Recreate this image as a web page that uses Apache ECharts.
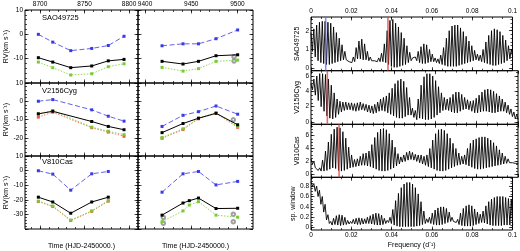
<!DOCTYPE html>
<html>
<head>
<meta charset="utf-8">
<script src="https://cdn.jsdelivr.net/npm/echarts@6/dist/echarts.min.js"></script>
<style>
  html, body { margin: 0; padding: 0; background: #fff; }
  #main { width: 520px; height: 251px; }
</style>
</head>
<body>
<div id="main"></div>
<script>
// ---- RV curves (left block) ----
var leftT  = [8698.1, 8714.3, 8734.5, 8758.1, 8776.7, 8794.4];
var rightT = [9418.4, 9441.1, 9447.9, 9457.8, 9476.8, 9500.2];

var saoBlueL  = [0, -3.2, -6.7, -5.8, -4.6, -0.8];
var saoBlackL = [-9.6, -11.4, -13.7, -13.0, -10.9, -10.3];
var saoGreenL = [-11.4, -13.7, -16.7, -16.2, -13.3, -12.1];
var saoBlueR  = [-4.7, -3.9, null, -3.9, -1.8, 1.8];
var saoBlackR = [-11.1, -12.2, null, -11.1, -8.8, -8.4];
var saoGreenR = [-13.6, -15.1, null, -14.1, -11.1, -10.6];
var saoOpen   = [[9496.3, -9.2], [9496.3, -11.0]];

var cygBlueL  = [0, 0.9, null, -4.7, -8.2, -10.9];
var cygBlackL = [-6.9, -5.5, null, -11.1, -13.8, -15.6];
var cygGreenL = [-6.9, -5.1, null, -14.2, -16.4, -18.3];
var cygRedL   = [-8.7, -6.0, null, -14.5, -16.9, -19.2];
var cygBlueR  = [-13.8, -7.7, null, -5.7, -2.6, -7.1];
var cygBlackR = [-17.2, -12.2, null, -9.3, -6.6, -12.9];
var cygGreenR = [-19.9, -15.1, null, -9.3, -6.4, -13.8];
var cygRedR   = [-20.3, -15.5, null, -9.6, -6.6, -14.3];
var cygOpen   = [[9495.5, -10.2]];

var casBlueL  = [-0.1, -2.4, -13.4, -2.2, -0.6, null];
var casBlackL = [-18.2, -21.5, -29.2, -21.5, -18.2, null];
var casGreenL = [-20.9, -24.3, -33.9, -27.6, -20.6, null];
var casRedL   = [-21.2, -24.6, -34.2, -27.9, -20.9, null];
var casBlueR  = [-14.8, -2.2, null, -0.6, -9.8, -7.4];
var casBlackR = [-30.5, -22.2, -20.6, -18.8, -26.0, -25.8];
var casGreenR = [-35.0, -27.6, -23.6, -21.3, -30.5, -31.9];
var casOpen   = [[9419.8, -32.1], [9419.8, -36.1], [9495.5, -29.9], [9495.5, -35.0]];

// ---- periodograms (right block): peak / trough heights of each fringe ----
var FSTEP = 0.0014;
var saoPeak = [1.9, 2.1, 2.3, 2.45, 2.5, 2.5, 2.45, 2.4, 2.2, 1.9,
  1.6, 1.25, 0.9, 0.55, 0.4, 0.6, 1.1, 1.45, 1.55, 1.3,
  0.9, 0.6, 0.5, 0.5, 0.55, 0.8, 1.3, 2.0, 2.55, 2.6,
  2.4, 2.2, 1.9, 1.6, 1.2, 0.85, 0.55, 0.6, 0.9, 1.15,
  1.3, 1.25, 1.0, 0.75, 0.55, 0.5, 0.7, 1.1, 1.6, 2.0,
  2.25, 2.3, 2.3, 2.15, 1.95, 1.7, 1.45, 1.2, 0.95, 0.75,
  0.7, 1.0, 1.4, 1.75, 2.0, 2.1, 2.05, 1.95, 1.75, 1.5,
  1.2, 1.0];
var saoTrough = [0.9, 0.6, 0.4, 0.3, 0.25, 0.2, 0.2, 0.25, 0.3, 0.35,
  0.4, 0.45, 0.45, 0.35, 0.3, 0.35, 0.5, 0.5, 0.45, 0.45,
  0.4, 0.4, 0.4, 0.35, 0.35, 0.35, 0.3, 0.2, 0.1, 0.05,
  0.05, 0.1, 0.15, 0.2, 0.3, 0.4, 0.45, 0.4, 0.3, 0.25,
  0.25, 0.3, 0.35, 0.35, 0.3, 0.25, 0.2, 0.15, 0.1, 0.1,
  0.1, 0.1, 0.15, 0.2, 0.25, 0.3, 0.35, 0.4, 0.45, 0.4,
  0.35, 0.3, 0.25, 0.2, 0.15, 0.15, 0.2, 0.25, 0.3, 0.4,
  0.5, 0.6];
var cygPeak = [5.0, 5.6, 6.0, 6.3, 6.3, 6.2, 5.6, 4.8, 3.8, 3.0,
  2.7, 2.6, 2.6, 2.5, 2.5, 2.4, 2.5, 2.6, 2.4, 2.3,
  2.2, 2.1, 2.3, 2.6, 3.0, 3.2, 3.4, 3.8, 4.4, 5.0,
  5.4, 5.6, 5.3, 4.5, 3.2, 1.8, 1.5, 3.0, 4.8, 5.9,
  6.3, 6.3, 6.0, 5.4, 4.6, 3.8, 3.2, 3.0, 3.2, 3.6,
  3.9, 3.9, 3.6, 3.2, 2.9, 2.7, 2.8, 3.1, 3.5, 3.9,
  4.2, 4.3, 4.2, 4.0, 3.7, 3.4, 3.0, 2.6, 2.2, 1.7,
  1.3, 1.0];
var cygTrough = [4.2, 3.5, 2.8, 2.0, 1.4, 0.8, 0.5, 0.4, 0.6, 1.0,
  1.3, 1.5, 1.6, 1.6, 1.5, 1.4, 1.5, 1.6, 1.5, 1.3,
  1.2, 1.1, 1.2, 1.4, 1.5, 1.4, 1.2, 1.0, 0.8, 0.6,
  0.5, 0.5, 0.7, 0.9, 0.9, 0.6, 0.3, 0.5, 0.4, 0.3,
  0.3, 0.4, 0.6, 0.9, 1.2, 1.5, 1.6, 1.5, 1.3, 1.2,
  1.2, 1.4, 1.6, 1.7, 1.6, 1.4, 1.2, 1.2, 1.3, 1.4,
  1.4, 1.3, 1.2, 1.2, 1.3, 1.4, 1.4, 1.2, 1.0, 0.7,
  0.4, 0.3];
var casPeak = [2.4, 2.0, 1.2, 1.0, 2.2, 3.6, 5.0, 6.2, 7.0, 7.3,
  7.2, 6.6, 5.6, 4.2, 3.0, 2.3, 2.4, 2.8, 3.2, 3.3,
  3.6, 4.6, 5.7, 6.5, 7.0, 7.1, 6.9, 6.3, 5.3, 4.2,
  3.2, 2.7, 3.0, 3.4, 3.6, 3.4, 3.1, 3.0, 3.0, 2.8,
  3.0, 4.0, 5.3, 6.3, 6.9, 7.0, 6.8, 6.3, 5.6, 4.8,
  4.0, 3.3, 2.8, 3.0, 4.0, 4.8, 5.3, 5.5, 5.7, 5.8,
  5.8, 5.6, 5.3, 4.9, 4.4, 3.8, 3.3, 2.8, 2.4, 2.1,
  2.0, 2.0];
var casTrough = [1.6, 1.0, 0.6, 0.5, 0.5, 0.6, 0.8, 1.0, 0.9, 0.6,
  0.5, 0.6, 0.8, 1.0, 1.1, 1.2, 1.3, 1.4, 1.4, 1.3,
  1.2, 1.0, 0.8, 0.6, 0.5, 0.5, 0.6, 0.8, 1.0, 1.3,
  1.6, 1.9, 2.0, 2.2, 2.3, 2.2, 2.0, 1.8, 1.6, 1.4,
  1.2, 1.0, 0.8, 0.6, 0.5, 0.5, 0.6, 0.8, 1.0, 1.2,
  1.4, 1.5, 1.6, 1.5, 1.3, 1.1, 0.9, 0.8, 0.8, 0.9,
  1.0, 1.1, 1.2, 1.3, 1.4, 1.5, 1.6, 1.7, 1.8, 1.8,
  1.7, 1.7];
var winPeak = [0.88, 0.85, 0.8, 0.72, 0.6, 0.45, 0.25, 0.12, 0.18, 0.23,
  0.25, 0.24, 0.2, 0.14, 0.12, 0.16, 0.18, 0.19, 0.18, 0.17,
  0.2, 0.23, 0.26, 0.28, 0.27, 0.24, 0.18, 0.14, 0.2, 0.35,
  0.52, 0.66, 0.77, 0.84, 0.87, 0.87, 0.84, 0.77, 0.65, 0.5,
  0.32, 0.17, 0.2, 0.28, 0.34, 0.38, 0.4, 0.4, 0.37, 0.3,
  0.2, 0.12, 0.16, 0.28, 0.37, 0.42, 0.44, 0.42, 0.36, 0.3,
  0.26, 0.32, 0.42, 0.5, 0.55, 0.58, 0.6, 0.6, 0.6, 0.58,
  0.56, 0.55];
var winTrough = [0.8, 0.7, 0.6, 0.45, 0.3, 0.15, 0.08, 0.05, 0.06, 0.05,
  0.04, 0.05, 0.06, 0.07, 0.08, 0.07, 0.06, 0.06, 0.07, 0.08,
  0.08, 0.07, 0.06, 0.05, 0.05, 0.06, 0.08, 0.1, 0.08, 0.05,
  0.03, 0.02, 0.02, 0.02, 0.02, 0.02, 0.02, 0.03, 0.04, 0.06,
  0.08, 0.1, 0.08, 0.06, 0.05, 0.05, 0.06, 0.08, 0.1, 0.12,
  0.12, 0.1, 0.06, 0.04, 0.03, 0.03, 0.03, 0.04, 0.06, 0.08,
  0.1, 0.09, 0.07, 0.05, 0.04, 0.04, 0.04, 0.04, 0.05, 0.05,
  0.05, 0.05];

var saoRedF = [0.0382], saoBlueF = [0.0073];
var cygRedF = [0.0079];
var casRedF = [0.01355];

var freqLabels = [0, 0.02, 0.04, 0.06, 0.08, 0.1];

var FONT = 'Liberation Sans, Arial, sans-serif';
var BLUE = '#3a3ae6', GREEN = '#77cc33', RED = '#f05a3c', GREY = '#888888';

var grids = [], xAxes = [], yAxes = [], series = [];

function ticks(min, max, step) {
  var a = [];
  for (var k = Math.ceil(min / step - 1e-9); k * step <= max + 1e-9; k++) {
    a.push(+(k * step).toFixed(6));
  }
  return a;
}
function plain(v) { return String(+v.toFixed(4)); }

function axis(g, pos, r, vals, len, labels, name, nameGap, rot) {
  return {
    type: 'value', gridIndex: g, position: pos, min: r[0], max: r[1],
    axisLine: { show: false, onZero: false }, splitLine: { show: false },
    axisTick: { show: true, inside: true, length: len, customValues: vals,
                lineStyle: { color: '#000', width: 0.7 } },
    axisLabel: { show: !!labels, customValues: labels || [], fontSize: 6.5, color: '#000',
                 margin: 2, fontFamily: FONT, formatter: plain, hideOverlap: false },
    name: name || '', nameLocation: 'middle', nameGap: nameGap || 0, nameRotate: rot,
    nameTextStyle: { fontSize: 7, color: '#000', fontFamily: FONT }
  };
}

function panel(c) {
  var g = grids.length;
  grids.push({ left: c.box[0], top: c.box[1], width: c.box[2], height: c.box[3],
               show: true, borderColor: '#000', borderWidth: 1 });
  var xi = xAxes.length, yi = yAxes.length;
  var xM = ticks(c.xr[0], c.xr[1], c.xMaj), xm = ticks(c.xr[0], c.xr[1], c.xMin);
  var yM = ticks(c.yr[0], c.yr[1], c.yMaj), ym = ticks(c.yr[0], c.yr[1], c.yMin);
  xAxes.push(axis(g, 'bottom', c.xr, xM, 3.5, c.bottomLabels, c.xName, c.xNameGap));
  xAxes.push(axis(g, 'bottom', c.xr, xm, 2));
  xAxes.push(axis(g, 'top', c.xr, xM, 3.5, c.topLabels));
  xAxes.push(axis(g, 'top', c.xr, xm, 2));
  yAxes.push(axis(g, 'left', c.yr, yM, 3.5, c.leftLabels, c.yName, c.yNameGap, 90));
  yAxes.push(axis(g, 'left', c.yr, ym, 2));
  yAxes.push(axis(g, 'right', c.yr, yM, 3.5));
  yAxes.push(axis(g, 'right', c.yr, ym, 2));
  return { x: xi, y: yi };
}

function rvLine(ax, times, vals, color, dash, width) {
  var d = [];
  for (var i = 0; i < times.length; i++) d.push([times[i], vals[i]]);
  series.push({ type: 'line', xAxisIndex: ax.x, yAxisIndex: ax.y, data: d, connectNulls: true,
    symbol: 'rect', symbolSize: 3, showSymbol: true, itemStyle: { color: color },
    lineStyle: { color: color, width: width || 0.8, type: dash }, silent: true });
}
function openPts(ax, pts) {
  series.push({ type: 'scatter', xAxisIndex: ax.x, yAxisIndex: ax.y, data: pts,
    symbol: 'emptyCircle', symbolSize: 3.5, itemStyle: { color: GREY, borderColor: GREY, borderWidth: 0.8 },
    silent: true });
}
function rvPanel(ax, times, blue, black, green, red, open) {
  if (red) rvLine(ax, times, red, RED, [1.5, 1.5]);
  rvLine(ax, times, green, GREEN, [1.5, 1.5]);
  rvLine(ax, times, black, '#000', 'solid', 1);
  rvLine(ax, times, blue, BLUE, [5, 2.5]);
  if (open) openPts(ax, open);
}

function pgram(ax, peak, trough, yr, redF, blueF) {
  var d = [];
  for (var i = 0; i < peak.length; i++) {
    d.push([i * FSTEP, peak[i]]);
    d.push([(i + 0.5) * FSTEP, trough[i]]);
  }
  series.push({ type: 'line', xAxisIndex: ax.x, yAxisIndex: ax.y, data: d, showSymbol: false,
    lineStyle: { color: '#000', width: 0.9 }, silent: true, clip: true });
  function vline(f, col) {
    series.push({ type: 'line', xAxisIndex: ax.x, yAxisIndex: ax.y, showSymbol: false,
      data: [[f, yr[0]], [f, yr[1]]], lineStyle: { color: col, width: 1.6, opacity: 0.75 }, silent: true });
  }
  (redF || []).forEach(function (f) { vline(f, '#e03c3c'); });
  (blueF || []).forEach(function (f) { vline(f, '#6a6ae8'); });
}

// ---- layout ----
var LX = [8683.1, 8810.1], RX = [9392.4, 9516.8];
var rowBox = [[10, 73], [83, 73], [156, 74]];
var rvY = [[-20, 10], [-30, 10], [-40, 10]];
var rvLab = [[10, 0, -10], [10, 0, -10, -20], [10, 0, -10, -20, -30]];
var axL = [], axR = [];
for (var r = 0; r < 3; r++) {
  var last = r === 2;
  axL.push(panel({ box: [25, rowBox[r][0], 113, rowBox[r][1]], xr: LX, yr: rvY[r],
    xMaj: 50, xMin: 10, yMaj: 10, yMin: 2,
    topLabels: r === 0 ? [8700, 8750, 8800] : null, leftLabels: rvLab[r],
    yName: 'RV(km s\u207B\u00B9)', yNameGap: 11,
    xName: last ? 'Time (HJD-2450000.)' : '', xNameGap: 14 }));
  axR.push(panel({ box: [138, rowBox[r][0], 115, rowBox[r][1]], xr: RX, yr: rvY[r],
    xMaj: 50, xMin: 10, yMaj: 10, yMin: 2,
    topLabels: r === 0 ? [9400, 9450, 9500] : null,
    xName: last ? 'Time (HJD-2450000.)' : '', xNameGap: 14 }));
}
rvPanel(axL[0], leftT, saoBlueL, saoBlackL, saoGreenL, null, null);
rvPanel(axR[0], rightT, saoBlueR, saoBlackR, saoGreenR, null, saoOpen);
rvPanel(axL[1], leftT, cygBlueL, cygBlackL, cygGreenL, cygRedL, null);
rvPanel(axR[1], rightT, cygBlueR, cygBlackR, cygGreenR, cygRedR, cygOpen);
rvPanel(axL[2], leftT, casBlueL, casBlackL, casGreenL, casRedL, null);
rvPanel(axR[2], rightT, casBlueR, casBlackR, casGreenR, null, casOpen);

var FX = [0, 0.1];
var pY = [[-0.13, 2.73], [-0.3, 6.69], [-0.46, 7.75], [-0.045, 0.97]];
var pBox = [[17, 53.7], [70.7, 53.6], [124.3, 53], [177.3, 52.7]];
var pMaj = [1, 2, 2, 0.2], pMin = [0.2, 0.5, 0.5, 0.05];
var pLab = [[0, 1, 2], [0, 2, 4, 6], [0, 2, 4, 6], [0, 0.2, 0.4, 0.6, 0.8]];
var pName = ['SAO49725', 'V2156Cyg', 'V810Cas', 'sp. window'];
var axP = [];
for (var p = 0; p < 4; p++) {
  axP.push(panel({ box: [311, pBox[p][0], 207, pBox[p][1]], xr: FX, yr: pY[p],
    xMaj: 0.02, xMin: 0.005, yMaj: pMaj[p], yMin: pMin[p],
    topLabels: p === 0 ? freqLabels : null, bottomLabels: p === 3 ? freqLabels : null,
    leftLabels: pLab[p], yName: pName[p], yNameGap: p === 3 ? 14 : 10,
    xName: p === 3 ? 'Frequency (d\u207B\u00B9)' : '', xNameGap: 12 }));
}
pgram(axP[0], saoPeak, saoTrough, pY[0], saoRedF, saoBlueF);
pgram(axP[1], cygPeak, cygTrough, pY[1], cygRedF, null);
pgram(axP[2], casPeak, casTrough, pY[2], casRedF, null);
pgram(axP[3], winPeak, winTrough, pY[3], null, null);

var starNames = [['SAO49725', 14], ['V2156Cyg', 87], ['V810Cas', 157.5]];
var graphics = starNames.map(function (s) {
  return { type: 'text', left: 42, top: s[1], silent: true,
           style: { text: s[0], font: '7.5px ' + FONT, fill: '#000' } };
});

var myChart = echarts.init(document.getElementById('main'), null, { renderer: 'canvas' });
var option = {
  animation: false,
  textStyle: { fontFamily: FONT },
  grid: grids, xAxis: xAxes, yAxis: yAxes, series: series, graphic: graphics
};
myChart.setOption(option);
</script>
</body>
</html>
